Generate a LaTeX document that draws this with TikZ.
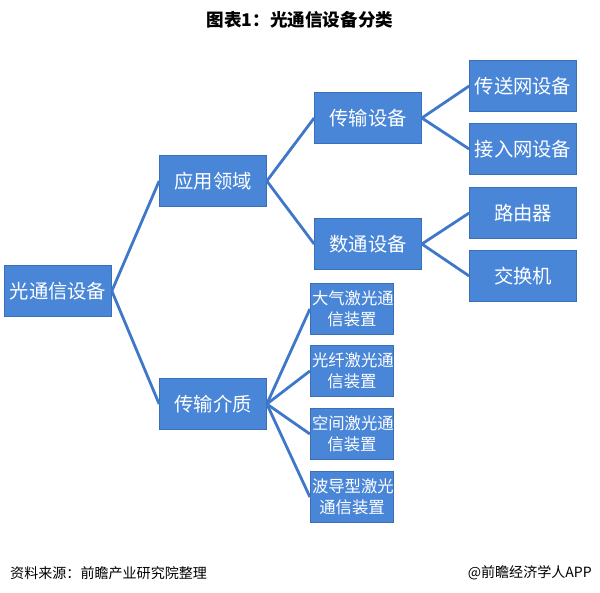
\documentclass[tikz,border=0pt]{standalone}
\usepackage{fontspec}
\setmainfont{Noto Sans CJK SC}
\usetikzlibrary{positioning}
\definecolor{boxblue}{HTML}{4A86D8}
\definecolor{boxedge}{HTML}{3A6FB8}
\definecolor{linkblue}{HTML}{3F78C8}
\tikzset{
  box/.style={draw=boxedge, fill=boxblue, text=white, minimum height=1.02cm, font=\fontsize{11}{13}\selectfont, inner sep=1pt, align=center},
  wide/.style={box, minimum width=2.14cm},
  narrow/.style={box, minimum width=1.64cm, text width=1.6cm, font=\fontsize{9.3}{12}\selectfont},
  link/.style={draw=linkblue, line width=1.6pt},
}
\begin{document}
\begin{tikzpicture}
  \useasboundingbox (0,0) rectangle (12,-11.86);
  \node[font=\bfseries\fontsize{10}{12}\selectfont] (title) at (6,-0.4) {图表1：光通信设备分类};

  \node[wide] (root) at (1.16,-5.82) {光通信设备};
  \node[wide] (app) at (4.26,-3.62) {应用领域};
  \node[wide] (med) at (4.26,-8.08) {传输介质};
  \node[wide] (trans) at (7.36,-2.36) {传输设备};
  \node[wide] (data) at (7.36,-4.88) {数通设备};
  \node[wide] (net1) at (10.46,-1.72) {传送网设备};
  \node[wide] (net2) at (10.46,-2.98) {接入网设备};
  \node[wide] (router) at (10.46,-4.26) {路由器};
  \node[wide] (switch) at (10.46,-5.52) {交换机};
  \node[narrow] (m1) at (7.04,-6.18) {大气激光通\\信装置};
  \node[narrow] (m2) at (7.04,-7.42) {光纤激光通\\信装置};
  \node[narrow] (m3) at (7.04,-8.68) {空间激光通\\信装置};
  \node[narrow] (m4) at (7.04,-9.94) {波导型激光\\通信装置};

  \foreach \a/\b in {root/app, root/med, app/trans, app/data, trans/net1, trans/net2,
                     data/router, data/switch, med/m1, med/m2, med/m3, med/m4}
    \draw[link] (\a.east) -- (\b.west);

  \node[font=\fontsize{8}{10}\selectfont, anchor=west] (src) at (0.08,-11.46) {资料来源：前瞻产业研究院整理};
  \node[font=\fontsize{8}{10}\selectfont, anchor=east] (brand) at (11.96,-11.46) {@前瞻经济学人APP};
\end{tikzpicture}
\end{document}
